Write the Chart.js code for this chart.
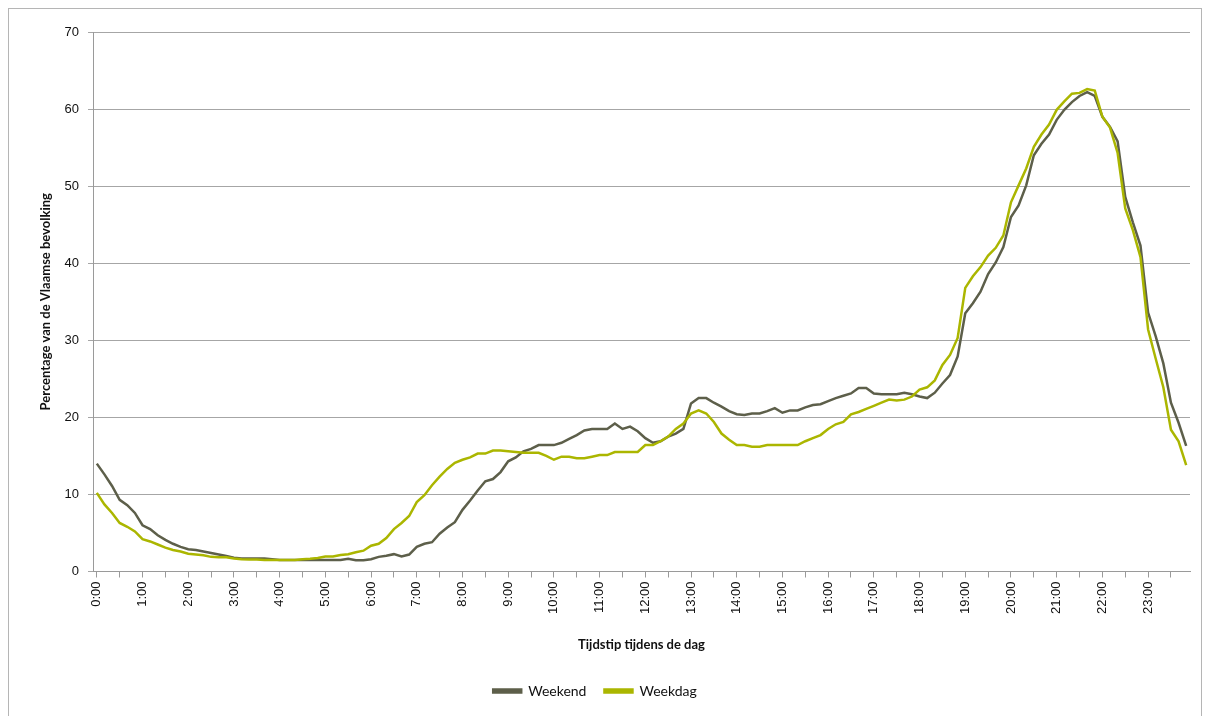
<!DOCTYPE html>
<html>
<head>
<meta charset="utf-8">
<script src="https://cdn.jsdelivr.net/npm/chart.js@4.4.0/dist/chart.umd.min.js"></script>
<style>
body { margin: 0; background: #fff; }
#wrap { position: relative; width: 1210px; height: 716px; overflow: hidden; }
#frame { position: absolute; left: 8px; top: 8px; width: 1192px; height: 740px; border: 1px solid #b5b5b5; }
canvas { position: absolute; left: 0; top: 0; }
</style>
</head>
<body>
<div id="wrap">
  <div id="frame"></div>
  <canvas id="myChart" width="1210" height="716"></canvas>
</div>
<script>
// labels op de as (elk uur)
const hourLabels = ['0:00','1:00','2:00','3:00','4:00','5:00','6:00','7:00','8:00','9:00','10:00','11:00',
  '12:00','13:00','14:00','15:00','16:00','17:00','18:00','19:00','20:00','21:00','22:00','23:00'];
const minuteSteps = ['00','10','20','30','40','50'];

// percentage per 10 minuten
const weekend = [
  14.0, 12.6, 11.1, 9.3, 8.6, 7.6, 6.0, 5.5, 4.7, 4.1, 3.6, 3.2,
  2.9, 2.8, 2.6, 2.4, 2.2, 2.0, 1.8, 1.7, 1.7, 1.7, 1.7, 1.6,
  1.5, 1.5, 1.5, 1.5, 1.5, 1.5, 1.5, 1.5, 1.5, 1.65, 1.45, 1.45,
  1.6, 1.9, 2.05, 2.25, 1.95, 2.2, 3.2, 3.6, 3.8, 4.9, 5.7, 6.4,
  8.0, 9.2, 10.5, 11.7, 12.0, 12.9, 14.3, 14.8, 15.6, 15.9, 16.4, 16.4,
  16.4, 16.7, 17.2, 17.7, 18.3, 18.5, 18.5, 18.5, 19.2, 18.5, 18.8, 18.2,
  17.3, 16.7, 16.9, 17.5, 17.9, 18.5, 21.8, 22.5, 22.5, 21.9, 21.4, 20.8,
  20.4, 20.3, 20.5, 20.5, 20.8, 21.2, 20.6, 20.9, 20.9, 21.3, 21.6, 21.7,
  22.1, 22.5, 22.8, 23.1, 23.8, 23.8, 23.1, 23.0, 23.0, 23.0, 23.2, 23.0,
  22.7, 22.5, 23.2, 24.4, 25.5, 27.9, 33.5, 34.8, 36.3, 38.6, 40.1, 42.1,
  46.0, 47.5, 50.1, 54.0, 55.5, 56.7, 58.6, 59.9, 60.9, 61.7, 62.2, 61.7,
  59.0, 57.7, 55.8, 48.6, 45.3, 42.3, 33.6, 30.5, 27.0, 21.9, 19.3, 16.3
];
const weekdag = [
  10.2, 8.7, 7.6, 6.3, 5.8, 5.2, 4.2, 3.9, 3.5, 3.1, 2.8, 2.6,
  2.3, 2.2, 2.1, 1.9, 1.85, 1.85, 1.7, 1.6, 1.55, 1.55, 1.5, 1.5,
  1.5, 1.5, 1.5, 1.6, 1.65, 1.75, 1.95, 1.95, 2.15, 2.25, 2.5, 2.7,
  3.35, 3.6, 4.35, 5.5, 6.3, 7.2, 9.0, 9.9, 11.2, 12.3, 13.3, 14.1,
  14.5, 14.8, 15.3, 15.3, 15.7, 15.7, 15.6, 15.5, 15.4, 15.4, 15.4, 15.0,
  14.5, 14.9, 14.9, 14.7, 14.7, 14.9, 15.1, 15.1, 15.5, 15.5, 15.5, 15.5,
  16.4, 16.4, 16.9, 17.5, 18.5, 19.2, 20.5, 20.9, 20.5, 19.4, 17.9, 17.1,
  16.4, 16.4, 16.2, 16.2, 16.4, 16.4, 16.4, 16.4, 16.4, 16.9, 17.3, 17.7,
  18.5, 19.1, 19.4, 20.4, 20.7, 21.1, 21.5, 21.9, 22.3, 22.2, 22.3, 22.7,
  23.6, 23.9, 24.8, 26.8, 28.1, 30.3, 36.8, 38.3, 39.5, 41.0, 42.0, 43.6,
  47.9, 50.1, 52.3, 55.1, 56.7, 58.0, 59.9, 61.0, 62.0, 62.1, 62.6, 62.4,
  59.0, 57.6, 54.3, 47.1, 44.3, 40.8, 31.4, 27.6, 23.9, 18.4, 16.9, 13.8
];

// tijdstippen per 10 minuten opbouwen
const labels = [];
hourLabels.forEach(h => {
    const hour = h.split(':')[0];
    minuteSteps.forEach(m => labels.push(hour + ':' + m));
});

const tickFont = { family: 'Liberation Sans', size: 13 };
const titleFont = { family: 'Lato', size: 13, weight: 'bold' };

const ctx = document.getElementById('myChart').getContext('2d');
const myChart = new Chart(ctx, {
    type: 'line',
    data: {
        labels: labels,
        datasets: [{
            label: 'Weekend',
            data: weekend,
            borderColor: '#5d5f4a',
            backgroundColor: '#5d5f4a',
            borderWidth: 2.5,
            pointRadius: 0,
            tension: 0,
            order: 2
        }, {
            label: 'Weekdag',
            data: weekdag,
            borderColor: '#abb600',
            backgroundColor: '#abb600',
            borderWidth: 2.5,
            pointRadius: 0,
            tension: 0,
            order: 1
        }]
    },
    options: {
        responsive: false,
        animation: false,
        layout: { padding: { left: 0, right: 20, top: 32, bottom: 8 } },
        plugins: {
            tooltip: { enabled: false },
            legend: {
                position: 'bottom',
                labels: {
                    sort: (a, b) => a.datasetIndex - b.datasetIndex,
                    boxWidth: 28,
                    boxHeight: 3,
                    padding: 18,
                    color: '#111',
                    font: { family: 'Lato', size: 14 }
                }
            }
        },
        scales: {
            x: {
                offset: true,
                afterFit: scale => { scale.height = 94.5; },
                grid: { drawOnChartArea: false, drawTicks: true, tickLength: 6, color: '#9a9a9a' },
                border: { color: '#9a9a9a' },
                ticks: {
                    autoSkip: false,
                    minRotation: 90,
                    maxRotation: 90,
                    padding: 4,
                    color: '#111',
                    font: tickFont,
                    callback: (value, index) => {
                        if (index % 6 === 0) return hourLabels[index / 6];
                        if (index % 3 === 0) return '';
                        return null;
                    }
                },
                title: {
                    display: true,
                    text: 'Tijdstip tijdens de dag',
                    color: '#111',
                    font: titleFont,
                    padding: { top: 0, bottom: 13 }
                }
            },
            y: {
                min: 0,
                max: 70,
                afterFit: scale => { scale.width = 93; },
                grid: { color: '#a6a6a6', tickLength: 5 },
                border: { color: '#9a9a9a' },
                ticks: { stepSize: 10, padding: 9, color: '#111', font: tickFont },
                title: {
                    display: true,
                    text: 'Percentage van de Vlaamse bevolking',
                    color: '#111',
                    font: titleFont,
                    padding: { top: 38, bottom: 0 }
                }
            }
        }
    }
});
</script>
</body>
</html>
